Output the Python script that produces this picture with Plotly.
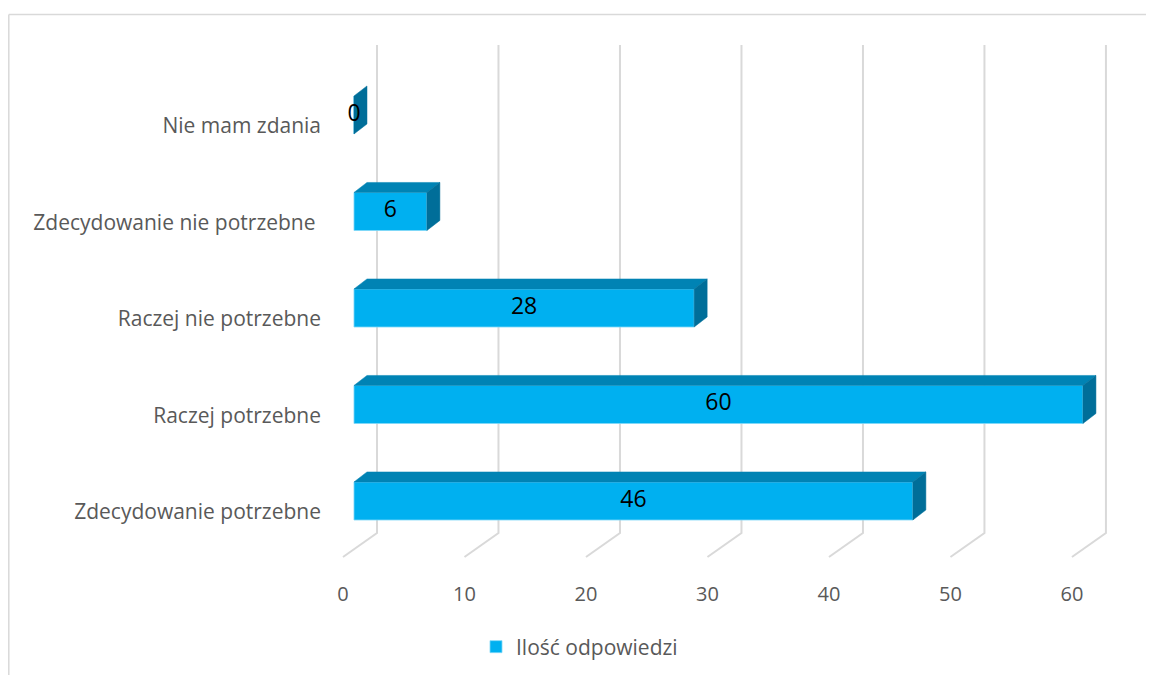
import plotly.graph_objects as go

# Dane
categories = ["Zdecydowanie potrzebne", "Raczej potrzebne", "Raczej nie potrzebne",
              "Zdecydowanie nie potrzebne\u00a0", "Nie mam zdania"]
values = [46, 60, 28, 6, 0]
ticks = [0, 10, 20, 30, 40, 50, 60]
series_name = "Ilość odpowiedzi"

# Wymiary wykresu (piksele); strona ma margines 8 px
W, H = 1154, 675
OFF = 8
L, R, T, B = 330 - OFF, 34 + OFF, 40 - OFF, 105 + OFF
PW, PH = W - L - R, H - T - B

# Efekt 3D (w jednostkach osi)
mid, half = 0.114, 0.197      # środek i połowa wysokości przedniej ściany słupka
dx, dy = 1.07, 0.104          # głębokość słupka
back_dx, back_y = 1.893, -0.218   # tylna ściana siatki
front_dx, front_y = -0.905, -0.466  # przednia krawędź podłogi
grid_top = 4.84

front_col = "#00B0F0"
top_col = "#0083B4"
side_col = "#006E99"
grid_col = "#D9D9D9"
text_col = "#595959"

pos = list(range(len(categories)))

fig = go.Figure()

# Przednie ściany słupków
fig.add_trace(go.Bar(
    x=values, y=[p + mid for p in pos], orientation="h", width=2 * half,
    marker=dict(color=front_col, line=dict(color="#7FD8F8", width=0.8)),
    name=series_name, showlegend=True, hoverinfo="x+y",
))

# Górne i boczne ściany
for p, v in zip(pos, values):
    top, bot = p + mid + half, p + mid - half
    if v > 0:
        fig.add_trace(go.Scatter(
            x=[0, v, v + dx, dx, 0], y=[top, top, top + dy, top + dy, top],
            fill="toself", fillcolor=top_col, mode="lines",
            line=dict(color=top_col, width=0.5), showlegend=False, hoverinfo="skip"))
    fig.add_trace(go.Scatter(
        x=[v, v + dx, v + dx, v, v], y=[bot, bot + dy, top + dy, top, bot],
        fill="toself", fillcolor=side_col, mode="lines",
        line=dict(color=side_col, width=0.5), showlegend=False, hoverinfo="skip"))

# Etykiety danych
fig.add_trace(go.Scatter(
    x=[v / 2 for v in values], y=[p + mid for p in pos], text=[str(v) for v in values],
    mode="text", textfont=dict(size=23, color="black", family="Open Sans"),
    showlegend=False, hoverinfo="skip"))

# Linie siatki (tylna ściana + podłoga)
for t in ticks:
    fig.add_shape(
        type="path", xref="x", yref="y", layer="below",
        path=f"M {t + back_dx},{grid_top} L {t + back_dx},{back_y} L {t + front_dx},{front_y}",
        line=dict(color=grid_col, width=2))

# Ramka obszaru wykresu (współrzędne ekranu -> paper)
def px_x(px):
    return (px - OFF - L) / PW

def px_y(py):
    return (H - B - (py - OFF)) / PH

fig.add_shape(type="line", xref="paper", yref="paper", x0=px_x(8.8), x1=px_x(W + 20),
              y0=px_y(14.5), y1=px_y(14.5), line=dict(color=grid_col, width=1.5))
fig.add_shape(type="line", xref="paper", yref="paper", x0=px_x(8.8), x1=px_x(8.8),
              y0=px_y(14.5), y1=px_y(H + 20), line=dict(color=grid_col, width=1.5))

fig.update_layout(
    width=W, height=H,
    margin=dict(l=L, r=R, t=T, b=B, pad=0),
    paper_bgcolor="white", plot_bgcolor="white",
    font=dict(family="Open Sans", size=20, color=text_col),
    xaxis=dict(range=[-1.975, 63.05], showgrid=False, zeroline=False, showline=False,
               tickvals=[t + front_dx for t in ticks], ticktext=[str(t) for t in ticks],
               ticks="", ticklabelstandoff=10, tickfont=dict(size=20), fixedrange=True),
    yaxis=dict(range=[-0.601, 4.891], showgrid=False, zeroline=False, showline=False,
               tickvals=pos, ticktext=categories, ticks="", ticklabelstandoff=8,
               tickfont=dict(size=21), fixedrange=True),
    legend=dict(orientation="h", x=px_x(476), xanchor="left", y=px_y(647), yanchor="middle",
                font=dict(size=21, color=text_col), itemwidth=30),
    showlegend=True,
)

fig.write_html("out.html")
